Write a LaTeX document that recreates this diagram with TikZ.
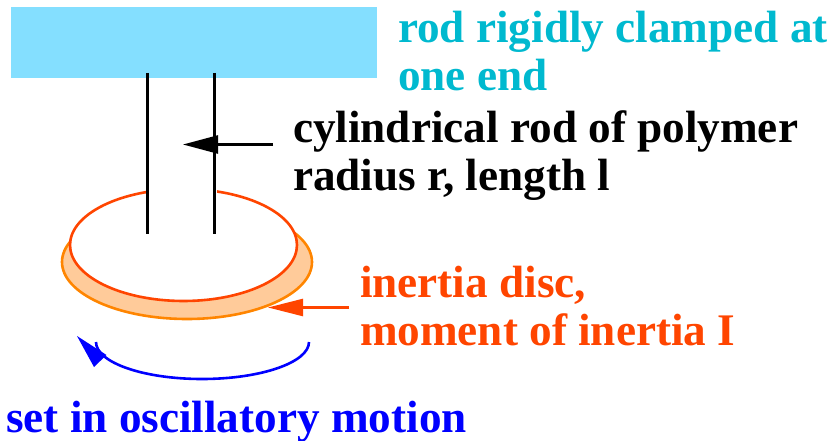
\documentclass[tikz,border=0pt]{standalone}
\usepackage{fontspec}
\setmainfont{Liberation Serif}
\usetikzlibrary{arrows.meta,shapes.geometric}
\definecolor{clampblue}{HTML}{84DFFF}
\definecolor{tealtext}{HTML}{00B9CF}
\definecolor{redor}{HTML}{FF4500}
\definecolor{discor}{HTML}{FF8500}
\definecolor{discfill}{HTML}{FFCB9A}
\definecolor{motion}{HTML}{0000FF}
\tikzset{
  lbl/.style={inner sep=0pt,outer sep=0pt,anchor=north west,align=left,
    font=\fontsize{45.2pt}{48pt}\selectfont\bfseries},
  rodline/.style={line width=3pt,black},
  ptr/.style={line width=2.4pt},
}
\begin{document}
\begin{tikzpicture}[x=1pt,y=-1pt]
\useasboundingbox (0,0) rectangle (833,441);
\node[fill=clampblue,draw=none,inner sep=0pt,minimum width=366pt,minimum height=71pt] (clamp) at (194,42.5) {};
\node[draw=discor,fill=discfill,line width=2.6pt,ellipse,inner sep=0pt,minimum width=250pt,minimum height=114pt] (outer) at (187,262) {};
\node[draw=redor,fill=white,line width=2.6pt,ellipse,inner sep=0pt,minimum width=227pt,minimum height=112pt] (inner) at (183.5,245) {};
\fill[white] (148,184) rectangle (217,200);
\coordinate (rl1) at (147,73); \coordinate (rl2) at (147,234);
\coordinate (rr1) at (214.5,73); \coordinate (rr2) at (214.5,234);
\draw[rodline] (rl1) -- (rl2);
\draw[rodline] (rr1) -- (rr2);
\coordinate (bs) at (273,144.5); \coordinate (bt) at (183,144.5);
\draw[ptr,black,-{Triangle[length=35pt,width=18pt]}] (bs) -- (bt);
\coordinate (rs) at (349,307.5); \coordinate (rt) at (268,307.5);
\draw[ptr,redor,-{Triangle[length=35pt,width=17pt]}] (rs) -- (rt);
\coordinate (ms) at (309,342); \coordinate (me) at (96,342);
\draw[motion,line width=2.6pt] (ms) .. controls (309,362.4) and (261,379) .. (202,379) .. controls (143,379) and (96,362.4) .. (me);
\fill[motion] (77,336) -- (94,367) -- (106.5,355) -- cycle;
\node[lbl,text=tealtext] (t1) at (398,11) {rod rigidly clamped at\\one end};
\node[lbl,text=black] (t2) at (293,111) {cylindrical rod of polymer\\radius r, length l};
\node[lbl,text=redor] (t3) at (360,266) {inertia disc,\\moment of inertia I};
\node[lbl,text=motion] (t4) at (6,401.5) {set in oscillatory motion};
\end{tikzpicture}
\end{document}
